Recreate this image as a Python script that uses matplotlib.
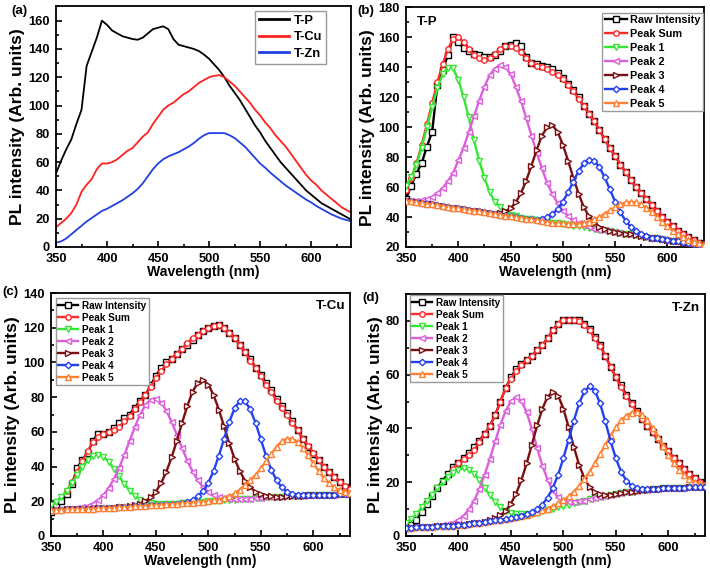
import numpy as np
import matplotlib
matplotlib.use("Agg")
import matplotlib.pyplot as plt
from matplotlib import font_manager as fm
from matplotlib.ticker import MultipleLocator

# ---------------- data ----------------
wl = np.arange(350, 641, 5)  # wavelength grid, nm

t_p = [52, 61, 69, 76, 87, 97, 128, 138, 148, 160, 157, 153, 151, 149, 148, 147, 146.5, 148, 151, 154,
       155, 156, 154, 147, 143, 142, 141, 140, 138.5, 136, 133, 129, 125, 120, 114, 109, 104, 98, 92, 86,
       81, 75, 70, 65, 60, 56, 52, 48, 44, 40, 37, 34, 31, 29, 27, 25, 23, 21, 19]
t_cu = [14, 17, 20, 24, 30, 39, 44, 48, 55, 59, 59, 60, 62, 65, 68, 70, 74, 78, 81, 87,
        92, 97, 100, 102, 105, 108, 110, 113, 116, 118, 120, 121, 121.5, 120, 117, 114, 110, 106, 102, 97,
        93, 88, 84, 79, 75, 71, 66, 61, 56, 51, 47, 44, 40, 37, 34, 31, 28, 26, 24]
t_zn = [3, 4, 6, 9, 12, 15, 18, 20.5, 23, 25.5, 27, 29, 31, 33, 35.5, 38, 41, 45, 50, 55,
        59, 62, 64, 65.5, 67, 69, 71, 73.5, 76.5, 79, 80.5, 80.5, 80.5, 80.5, 79, 77, 74, 71, 67, 63,
        59, 56, 52.5, 49.5, 46.5, 43.5, 41, 38.5, 36, 33.5, 31.5, 29, 27, 25, 23, 21.5, 20, 19, 18]

# fitted peak sums (start wavelength, values)
sum_b = (350, [58, 66, 76, 88, 102, 116, 130, 142, 152, 159, 160, 157, 152, 148, 146, 145, 146, 149, 152, 154,
               154, 153, 150, 146, 143, 141, 140, 139, 137, 135, 132, 128, 124, 119, 114, 109, 104, 98, 92, 86,
               81, 75, 70, 65, 60, 56, 52, 48, 44, 40, 37, 34, 31, 29, 27, 25, 23, 22, 21])
sum_c = (365, [26, 31, 37, 43, 49, 54, 57, 59, 60, 61, 63, 66, 69, 73, 77, 81, 86, 91, 95, 99,
               102, 105, 108, 111, 114, 116, 118, 120, 121, 121.5, 120, 117, 114, 110, 106, 101, 97, 92, 87, 83,
               78, 74, 70, 65, 61, 56, 52, 48, 44, 40, 37, 34, 31, 29, 27, 26])
sum_d = (395, [25, 27, 28.5, 30, 32, 35, 38, 41, 45, 50, 55, 58.5, 61.5, 63.5, 65.5, 67, 69, 71, 73.5, 76.5,
               79, 80.5, 80.5, 80.5, 80, 78.5, 76.5, 73.5, 70.5, 67, 63, 59, 55.5, 52, 49, 46, 43.5, 41, 38.5, 36,
               33.5, 31.5, 29, 27, 25, 23, 21.5, 20, 19, 18.5])

# baselines of the peak components
base_b = [51.0, 50.5, 50.0, 49.4, 48.9, 48.4, 47.9, 47.3, 46.8, 46.3, 45.8, 45.2, 44.7, 44.2, 43.7, 43.1,
          42.6, 42.1, 41.6, 41.0, 40.5, 40.0, 39.5, 38.9, 38.4, 37.9, 37.4, 36.8, 36.3, 35.8, 35.3, 34.7,
          34.2, 33.7, 33.2, 32.6, 32.1, 31.6, 31.1, 30.5, 30.0, 29.5, 29.0, 28.4, 27.9, 27.4, 26.9, 26.3,
          25.8, 25.3, 24.8, 24.2, 23.7, 23.2, 22.7, 22.1, 21.6, 21.1, 20.6]
base_c = [15.0, 15.1, 15.2, 15.3, 15.4, 15.5, 15.6, 15.7, 15.8, 15.9, 16.0, 16.2, 16.3, 16.5, 16.6, 16.8,
          17.0, 17.2, 17.4, 17.6, 17.8, 18.0, 18.2, 18.4, 18.6, 18.8, 19.1, 19.3, 19.6, 19.8, 20.0, 20.2,
          20.4, 20.6, 20.8, 21.0, 21.2, 21.4, 21.6, 21.8, 22.0, 22.2, 22.3, 22.5, 22.6, 22.8, 22.9, 23.1,
          23.2, 23.4, 23.5, 23.6, 23.7, 23.8, 23.9, 24.0, 24.1, 24.2, 24.3]
base_d = [3.0, 3.1, 3.2, 3.3, 3.4, 3.5, 3.6, 3.7, 3.8, 3.9, 4.0, 4.2, 4.4, 4.7, 5.0, 5.2, 5.5, 5.8, 6.1,
          6.4, 6.7, 7.1, 7.5, 7.9, 8.3, 8.7, 9.2, 9.7, 10.2, 10.7, 11.2, 11.7, 12.2, 12.7, 13.2, 13.6,
          14.0, 14.4, 14.8, 15.2, 15.6, 15.9, 16.2, 16.5, 16.8, 17.0, 17.2, 17.4, 17.6, 17.7, 17.8, 17.9,
          18.0, 18.0, 18.1, 18.1, 18.2, 18.2, 18.2]

# peak heights above baseline: (start wavelength, values every 5 nm)
peaks_b = [
    (350, [10, 16, 25, 37, 51, 65, 78, 88, 93, 93, 86, 75, 62, 47, 34, 23, 14, 8, 5, 2.5, 1, 0.5]),
    (355, [0.5, 1, 2, 3, 5, 8, 12, 17, 23, 32, 41, 52, 63, 74, 84, 92, 97, 100, 99, 95, 87, 78, 67, 56,
           45, 35, 26, 19, 13.5, 9, 6, 4, 2.3, 1.4, 0.8]),
    (440, [1.3, 2.7, 5.4, 9.8, 16.5, 25.4, 36, 47, 57, 63, 65, 61, 53, 43, 32, 22, 13.5, 7.8, 4.2, 2, 0.9, 0.4]),
    (480, [1.5, 3, 5.6, 9.5, 15, 21.8, 29.5, 36.8, 42.6, 45.7, 45.4, 41.7, 35.4, 27.9, 20.3, 13.7, 8.6, 5,
           2.7, 1.3, 0.6]),
    (500, [0.4, 0.7, 1.2, 1.9, 3, 4.4, 6.3, 8.6, 11.1, 13.9, 16.6, 19, 20.8, 21.8, 21.9, 21.1, 19.4, 17.1,
           14.5, 11.7, 9, 6.7, 4.8, 3.2, 2.1, 1.3, 0.8, 0.5, 0.3]),
]
peaks_c = [
    (350, [2.8, 4.6, 7.3, 10.8, 15.1, 19.7, 24.3, 28, 30.4, 31, 29.6, 26.7, 22.5, 17.9, 13.3, 9.3, 6.1, 3.8,
           2.2, 1.2, 0.6, 0.3]),
    (370, [0.25, 0.5, 0.9, 1.7, 2.9, 4.8, 7.6, 11.5, 16.6, 22.9, 30.2, 38.1, 45.9, 52.8, 58, 61, 61.3, 58.9,
           54, 47.3, 39.7, 31.8, 24.3, 17.8, 12.4, 8.3, 5.3, 3.2, 1.9, 1.1, 0.6, 0.3]),
    (425, [0.3, 0.7, 1.3, 2.6, 4.6, 7.8, 12.5, 18.9, 27, 36.4, 46.5, 56, 63.9, 68.7, 69.9, 67.2, 61, 52.4,
           42.5, 32.5, 23.5, 16.1, 10.4, 6.4, 3.7, 2, 1, 0.5]),
    (475, [0.3, 0.7, 1.6, 3.2, 6.1, 10.7, 17.3, 25.9, 35.5, 45, 52.6, 56.6, 56.2, 51.3, 43.3, 33.6, 24, 15.8,
           9.6, 5.4, 2.8, 1.3, 0.6, 0.25]),
    (505, [0.3, 0.6, 1.1, 2, 3.5, 5.5, 8, 10.5, 13.5, 17, 21, 25, 29, 32, 33.3, 33.2, 31.2, 27.7, 23.2, 18.4,
           13.8, 9.7, 6.5, 4.1, 2.5, 1.4, 0.8, 0.4]),
]
peaks_d = [
    (350, [2, 3.2, 4.8, 7.6, 9.6, 11.8, 14.1, 16.3, 18.2, 19.7, 20.7, 21, 20.3, 18.5, 15.9, 12.7, 9.6, 6.8,
           4.5, 2.8, 1.7, 0.9, 0.5, 0.2]),
    (380, [0.13, 0.3, 0.6, 1.1, 2, 3.4, 5.5, 8.5, 12.6, 17.6, 23.3, 29.4, 35.3, 40.1, 43.4, 44.5, 42.8, 38.1,
           31.5, 24, 17, 11.1, 6.7, 3.8, 2, 0.9, 0.4, 0.2]),
    (425, [0.17, 0.4, 0.8, 1.6, 3, 5.3, 8.7, 13.3, 19.1, 25.7, 32.4, 38.1, 42.1, 43.5, 41.5, 36.2, 28.8, 20.9,
           13.8, 8.3, 4.6, 2.3, 1.1, 0.5, 0.2]),
    (460, [0.1, 0.3, 0.6, 1.3, 2.5, 4.6, 7.7, 12.1, 17.7, 24.1, 30.7, 36.6, 40.6, 42, 40.1, 34.9, 27.8, 20.1,
           13.3, 8, 4.4, 2.2, 1, 0.5, 0.2]),
    (470, [0.1, 0.2, 0.3, 0.5, 0.9, 1.4, 2.1, 3, 4.3, 5.9, 8, 10.3, 13.1, 16, 19.1, 22.1, 24.8, 27.1, 28.6,
           29.4, 29.3, 28, 25.8, 22.8, 19.3, 15.8, 12.3, 9.3, 6.7, 4.7, 3.1, 2, 1.2, 0.7, 0.4]),
]

series_labels = ["Raw Intensity", "Peak Sum", "Peak 1", "Peak 2", "Peak 3", "Peak 4", "Peak 5"]
series_colors = ["#000000", "#ff2b2b", "#33e833", "#dd5fdd", "#7a0f12", "#2340ee", "#ff8030"]
series_markers = ["s", "o", "v", "<", ">", "D", "^"]

# ---------------- fonts ----------------
names = {f.name for f in fm.fontManager.ttflist}
NARROW = "Liberation Sans Narrow" in names
FAM = ["Liberation Sans Narrow", "Liberation Sans", "DejaVu Sans"] if NARROW else ["Liberation Sans", "DejaVu Sans"]
K = 1.0 if NARROW else 0.84
REG = ["Liberation Sans", "DejaVu Sans"]
plt.rcParams["font.family"] = FAM
plt.rcParams["font.weight"] = "bold"

W, H = 710, 575
fig = plt.figure(figsize=(W / 100, H / 100), dpi=100)


def add_axes(l, r, t, b):
    return fig.add_axes([l / W, 1 - b / H, (r - l) / W, (b - t) / H])


def style(ax, xmax, ylim, shift_first=False):
    ax.set_xlim(350, xmax)
    ax.set_ylim(*ylim)
    ax.xaxis.set_major_locator(MultipleLocator(50))
    ax.xaxis.set_minor_locator(MultipleLocator(25))
    ax.yaxis.set_major_locator(MultipleLocator(20))
    ax.yaxis.set_minor_locator(MultipleLocator(10))
    ax.tick_params(which="both", direction="in", top=False, right=False, width=1.2)
    ax.tick_params(which="major", length=4, labelsize=11 * K)
    ax.tick_params(axis="x", which="major", pad=4.5)
    ax.tick_params(axis="y", which="major", pad=4.5)
    ax.tick_params(which="minor", length=2.5)
    for lab in ax.get_xticklabels() + ax.get_yticklabels():
        lab.set_fontweight("bold")
    if shift_first:
        ax.get_xticklabels()[0].set_horizontalalignment("left")
    for s in ax.spines.values():
        s.set_linewidth(1.3)
    ax.set_xlabel("Wavelength (nm)", fontsize=12 * K, fontweight="bold", labelpad=0)
    ax.set_ylabel("PL intensity (Arb. units)", fontsize=12.5, fontweight="bold",
                  family=REG, labelpad=2)


def full(start, vals):
    arr = np.full(len(wl), np.nan)
    i = (start - 350) // 5
    arr[i:i + len(vals)] = vals
    return arr


def heights(start, vals):
    arr = np.zeros(len(wl))
    i = (start - 350) // 5
    arr[i:i + len(vals)] = vals
    return arr


def fit_panel(ax, raw, ssum, base, peaks, top_order=None):
    curves = [np.array(raw, float), full(*ssum)]
    b = np.array(base, float)
    for p in peaks:
        curves.append(b + heights(*p))
    for i, y in enumerate(curves):
        z = 3 + i
        if top_order is not None and i in top_order:
            z = top_order[i]
        ax.plot(wl, y, color=series_colors[i], lw=1.7, marker=series_markers[i],
                ms=3.9 if series_markers[i] != "D" else 3.3, mfc="white",
                mec=series_colors[i], mew=1.0, zorder=z, label=series_labels[i])


def legend(ax, loc, anchor, size, spacing):
    lg = ax.legend(loc=loc, bbox_to_anchor=anchor, frameon=True, fancybox=False,
                   edgecolor="#9a9a9a", framealpha=1, borderpad=0.25, labelspacing=spacing,
                   handlelength=2.0, handletextpad=0.35, borderaxespad=0, numpoints=1,
                   prop={"family": FAM, "weight": "bold", "size": size * K})
    lg.get_frame().set_linewidth(1.0)
    lg.set_zorder(20)
    return lg


# ---------------- (a) ----------------
ax_a = add_axes(56, 351, 6.5, 247)
ax_a.plot(wl, t_p, color="#000000", lw=1.3, label="T-P")
ax_a.plot(wl, t_cu, color="#ff2020", lw=1.3, label="T-Cu")
ax_a.plot(wl, t_zn, color="#2040e0", lw=1.3, label="T-Zn")
style(ax_a, 639, (0, 170))
lg = ax_a.legend(loc="upper right", bbox_to_anchor=(0.915, 0.981), frameon=True, fancybox=False,
                 edgecolor="#9a9a9a", framealpha=1, borderpad=0.3, labelspacing=0.35,
                 handlelength=2.3, handletextpad=0.4, borderaxespad=0,
                 prop={"family": FAM, "weight": "bold", "size": 11 * K})
for l in lg.get_lines():
    l.set_linewidth(2.0)

# ---------------- (b) ----------------
ax_b = add_axes(406, 704, 7.3, 247)
fit_panel(ax_b, t_p, sum_b, base_b, peaks_b)
style(ax_b, 635, (20, 180), shift_first=True)
legend(ax_b, "upper right", (0.998, 0.978), 9.3, 0.36)
ax_b.text(0.036, 0.94, "T-P", transform=ax_b.transAxes, ha="left", va="center",
          fontsize=11.5 * K, fontweight="bold")

# ---------------- (c) ----------------
ax_c = add_axes(51, 350, 293, 536)
fit_panel(ax_c, t_cu, sum_c, base_c, peaks_c)
style(ax_c, 635, (0, 140), shift_first=True)
legend(ax_c, "upper left", (0.016, 0.978), 8.6, 0.2)
ax_c.text(0.983, 0.948, "T-Cu", transform=ax_c.transAxes, ha="right", va="center",
          fontsize=11.5 * K, fontweight="bold")

# ---------------- (d) ----------------
ax_d = add_axes(406, 705, 294, 536)
fit_panel(ax_d, t_zn, sum_d, base_d, peaks_d, top_order={5: 10, 6: 8})
style(ax_d, 635, (0, 90), shift_first=True)
legend(ax_d, "upper left", (0.013, 0.995), 8.6, 0.2)
ax_d.text(0.983, 0.943, "T-Zn", transform=ax_d.transAxes, ha="right", va="center",
          fontsize=11.5 * K, fontweight="bold")

# panel letters
for txt, x, y in [("(a)", 19, 11), ("(b)", 366, 11), ("(c)", 10, 292), ("(d)", 371, 298)]:
    fig.text(x / W, 1 - y / H, txt, ha="center", va="center", fontsize=11.5 * K, fontweight="bold")

fig.savefig("out.png", dpi=100)
